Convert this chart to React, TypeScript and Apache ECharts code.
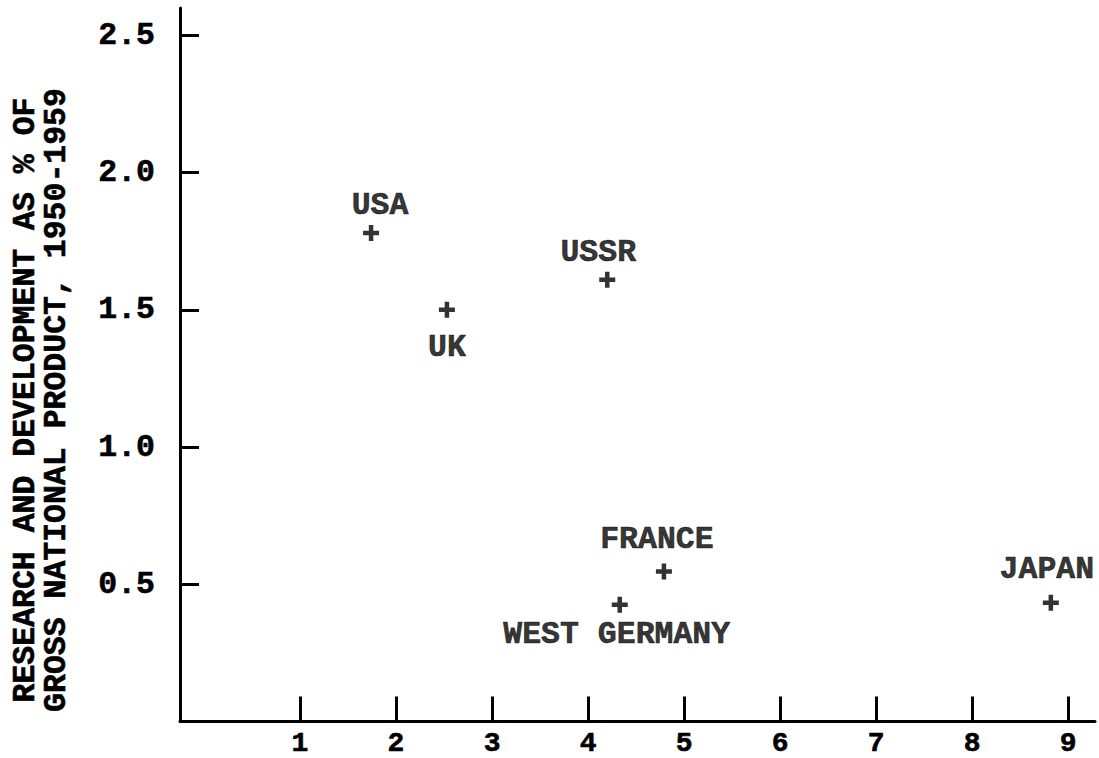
import React, { useEffect, useRef } from "react";
import * as echarts from "echarts";

const countries = ["USA", "UK", "USSR", "FRANCE", "WEST GERMANY", "JAPAN"];
const xValues = [1.74, 2.53, 4.2, 4.79, 4.33, 8.82];
const yValues = [1.78, 1.5, 1.61, 0.547, 0.425, 0.433];
const xTicks = [1, 2, 3, 4, 5, 6, 7, 8, 9];
const yTicks = [0.5, 1.0, 1.5, 2.0, 2.5];
const yTitle = ["RESEARCH AND DEVELOPMENT AS % OF", "GROSS NATIONAL PRODUCT, 1950-1959"];

// label placement relative to each marker (layout, not data)
const labelOffsets: Record<string, [number, number]> = {
  USA: [9, -28],
  UK: [0, 38],
  USSR: [-9, -27],
  FRANCE: [-7, -32],
  "WEST GERMANY": [-3, 30],
  JAPAN: [-4, -33],
};

const FONT = "'Liberation Mono', 'DejaVu Sans Mono', monospace";
const FS = 31.5;
const INK = { textBorderColor: "#000", textBorderWidth: 0.6 };
const PLUS = "path://M5.75,0H10.25V5.75H16V10.25H10.25V16H5.75V10.25H0V5.75H5.75Z";

export default function App() {
  const ref = useRef<HTMLDivElement>(null);
  useEffect(() => {
    if (!ref.current) return;
    const chart = echarts.init(ref.current, null, { renderer: "svg" });
    const data = countries.map((name, i) => ({
      name,
      value: [xValues[i], yValues[i]],
      label: {
        show: true,
        position: "inside",
        formatter: name,
        offset: labelOffsets[name],
        align: "center",
        verticalAlign: "middle",
        color: "#000",
        fontFamily: FONT,
        fontWeight: "bold",
        fontSize: FS,
        ...INK,
      },
    }));
    chart.setOption({
      animation: false,
      backgroundColor: "#fff",
      grid: {
        left: 180,
        top: 8,
        right: 4,
        bottom: 36.5,
        containLabel: false,
        outerBoundsMode: "none",
      },
      xAxis: {
        type: "value",
        min: -0.25,
        max: 9.28,
        splitLine: { show: false },
        axisLine: { show: true, onZero: false, lineStyle: { color: "#000", width: 3 } },
        axisTick: {
          show: true,
          inside: true,
          length: 25,
          customValues: xTicks,
          lineStyle: { color: "#000", width: 3 },
        },
        axisLabel: {
          show: true,
          customValues: xTicks,
          margin: 8,
          lineHeight: 28,
          color: "#000",
          fontFamily: FONT,
          fontWeight: "bold",
          fontSize: 28,
          ...INK,
        },
      },
      yAxis: {
        type: "value",
        min: 0,
        max: 2.6,
        splitLine: { show: false },
        axisLine: { show: true, onZero: false, lineStyle: { color: "#000", width: 3 } },
        axisTick: {
          show: true,
          inside: true,
          length: 19,
          customValues: yTicks,
          lineStyle: { color: "#000", width: 3 },
        },
        axisLabel: {
          show: true,
          customValues: yTicks,
          margin: 25,
          color: "#000",
          fontFamily: FONT,
          fontWeight: "bold",
          fontSize: FS,
          formatter: (v: number) => v.toFixed(1),
          ...INK,
        },
      },
      graphic: [
        {
          type: "text",
          x: 41,
          y: 400,
          rotation: Math.PI / 2,
          style: {
            text: yTitle.join("\n"),
            fill: "#000",
            stroke: "#000",
            lineWidth: 0.6,
            font: `bold ${FS}px ${FONT}`,
            lineHeight: 31,
            align: "center",
            verticalAlign: "middle",
          },
        },
      ],
      series: [
        {
          type: "scatter",
          symbol: PLUS,
          symbolSize: 16,
          itemStyle: { color: "#000" },
          data,
        },
      ],
    });
    return () => chart.dispose();
  }, []);
  return (
    <div
      ref={ref}
      style={{ position: "fixed", left: 0, top: 0, width: 1099, height: 758, background: "#fff" }}
    />
  );
}
